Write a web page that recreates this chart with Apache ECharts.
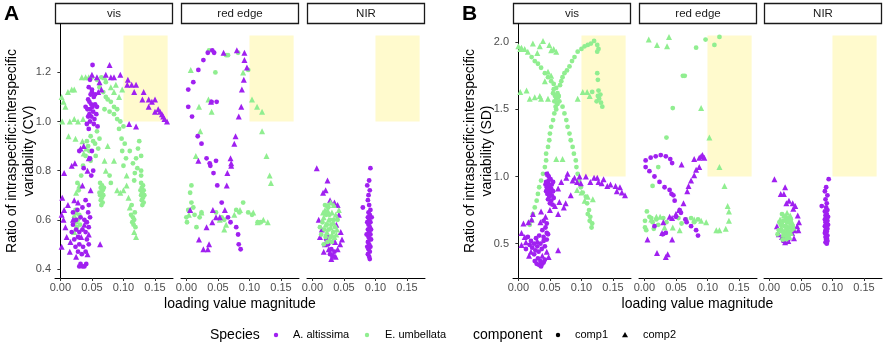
<!DOCTYPE html>
<html>
<head>
<meta charset="utf-8">
<script src="https://cdn.jsdelivr.net/npm/echarts@6/dist/echarts.min.js"></script>
<style>
  html, body { margin: 0; padding: 0; background: #fff; }
  #chart { width: 886px; height: 346px; }
</style>
</head>
<body>
<div id="chart"></div>
<script>
// facets and ticks
var facets = ['vis', 'red edge', 'NIR'];
var xTicks = [0, 0.05, 0.10, 0.15];
var xTickLabels = ['0.00', '0.05', '0.10', '0.15'];
var yTicksA = [0.4, 0.6, 0.8, 1.0, 1.2];
var yTickLabelsA = ['0.4', '0.6', '0.8', '1.0', '1.2'];
var yTicksB = [0.5, 1.0, 1.5, 2.0];
var yTickLabelsB = ['0.5', '1.0', '1.5', '2.0'];
// highlighted region [x0, x1, y0, y1]
var rectA = [0.10, 0.17, 1.0, 1.35];
var rectB = [0.10, 0.17, 1.0, 2.05];

// ---- A: CV ----  aa = A. altissima, eu = E. umbellata, 1/2 = comp1/comp2
var A_vis_aa1 = [[0.051,1.23],[0.047,1.17],[0.045,1.14],[0.050,1.12],[0.053,1.10],[0.046,1.08],[0.049,1.07],[0.055,1.07],[0.047,1.05],[0.043,1.05],[0.052,1.04],[0.057,1.03],[0.049,1.02],[0.044,1.02],[0.054,1.01],[0.047,1.00],[0.042,0.99],[0.059,0.98],[0.050,1.13],[0.055,1.11],[0.048,1.11],[0.044,1.09],[0.058,1.06],[0.051,1.06],[0.046,1.03],[0.053,0.99],[0.045,0.97],[0.040,1.06],
  [0.050,0.88],[0.047,0.85],[0.052,0.80],[0.049,0.78],[0.030,0.88],[0.037,0.81],
  [0.020,0.58],[0.025,0.56],[0.030,0.55],[0.028,0.53],[0.035,0.56],[0.040,0.55],[0.045,0.57],[0.042,0.59],[0.038,0.60],[0.032,0.61],[0.025,0.60],[0.018,0.55],[0.022,0.52],[0.030,0.50],[0.036,0.49],[0.042,0.52],[0.045,0.50],[0.040,0.47],[0.034,0.46],[0.028,0.47],[0.024,0.49],[0.032,0.42],[0.035,0.41],[0.038,0.41],[0.030,0.41],[0.041,0.42],[0.044,0.63],[0.047,0.61],[0.045,0.66],[0.040,0.68],[0.035,0.65],[0.027,0.64],[0.020,0.63]];
var A_vis_aa2 = [[0.078,1.23],[0.050,1.19],[0.072,1.19],[0.080,1.18],[0.085,1.18],[0.095,1.19],[0.107,1.17],[0.106,1.15],[0.113,1.15],[0.120,1.15],[0.117,1.12],[0.132,1.12],[0.130,1.09],[0.140,1.09],[0.145,1.08],[0.150,1.09],[0.140,1.06],[0.155,1.05],[0.150,1.04],[0.158,1.04],[0.161,1.03],[0.163,1.02],[0.165,1.01],[0.169,1.00],[0.109,0.99],[0.120,0.98],[0.062,1.16],[0.058,1.18],[0.065,1.13],[0.060,1.12],
  [0.006,0.79],[0.018,0.82],[0.023,0.83],[0.032,0.89],[0.037,0.90],[0.045,0.85],[0.043,0.80],[0.048,0.72],
  [0.003,0.69],[0.002,0.62],[0.005,0.60],[0.008,0.57],[0.010,0.53],[0.002,0.49],[0.016,0.51],[0.012,0.66],[0.028,0.67],[0.035,0.74],[0.022,0.68],[0.063,0.50],[0.045,0.54],[0.038,0.58],[0.015,0.47],[0.025,0.45],[0.043,0.46],[0.033,0.53],[0.020,0.60],[0.006,0.64]];
var A_vis_eu1 = [[0.063,0.75],[0.066,0.74],[0.064,0.73],[0.067,0.72],[0.065,0.71],[0.063,0.70],[0.068,0.70],[0.066,0.69],[0.064,0.68],[0.067,0.67],[0.065,0.66],[0.069,0.73],[0.062,0.71],
  [0.128,0.75],[0.131,0.74],[0.129,0.73],[0.132,0.72],[0.130,0.71],[0.128,0.70],[0.131,0.69],[0.129,0.68],[0.132,0.67],[0.130,0.66],[0.127,0.72],[0.133,0.70],
  [0.112,0.62],[0.115,0.61],[0.117,0.60],[0.114,0.59],[0.116,0.58],[0.119,0.57],[0.118,0.63],[0.113,0.66],
  [0.022,0.61],[0.025,0.59],[0.028,0.60],[0.030,0.62],[0.026,0.57],[0.031,0.58],[0.024,0.64],[0.029,0.72],[0.027,0.75],[0.033,0.78],[0.036,0.82],
  [0.042,0.92],[0.044,0.90],[0.046,0.88],[0.040,0.86],[0.048,0.84],[0.052,0.92],[0.055,0.91],[0.048,0.94],[0.058,0.96],[0.062,0.93],[0.060,0.89],[0.056,0.86],
  [0.050,1.18],[0.058,1.17],[0.065,1.18],[0.072,1.16],[0.062,1.14],[0.068,1.12],[0.072,1.10],[0.075,1.09],[0.080,1.08],[0.085,1.06],[0.090,1.05],[0.085,1.03],[0.078,1.04],[0.070,1.05],[0.090,1.01],[0.095,1.00],[0.093,0.97],[0.100,0.98],[0.097,0.93],[0.102,0.91],[0.098,0.88],[0.104,0.85],[0.100,0.82],[0.110,0.88],[0.115,0.83],[0.118,0.79],[0.122,0.81],[0.120,0.85],[0.125,0.92],[0.123,0.89],[0.128,0.86],[0.128,0.80],[0.128,0.78],[0.117,0.76],[0.078,0.78],[0.080,0.75]];
var A_vis_eu2 = [[0.002,1.10],[0.005,1.08],[0.008,1.06],[0.012,1.12],[0.018,1.13],[0.022,1.13],[0.034,1.18],[0.040,1.18],[0.045,1.18],[0.003,1.00],[0.015,1.00],[0.022,1.01],[0.028,1.00],[0.036,1.01],[0.013,0.94],[0.024,0.93],[0.035,0.92],[0.041,0.89],[0.037,0.87],[0.025,0.71],[0.030,0.74],
  [0.070,1.18],[0.080,1.14],[0.085,1.12],[0.088,1.15],[0.093,1.10],[0.098,1.13],
  [0.090,0.72],[0.100,0.72],[0.095,0.71],[0.105,0.74],[0.108,0.69],[0.110,0.65],[0.117,0.55],[0.120,0.53],[0.072,0.80],[0.070,0.84],[0.085,0.84],[0.075,0.90],[0.105,0.78],[0.022,0.61],[0.026,0.63],[0.022,0.55]];

var A_red_aa1 = [[0.034,1.28],[0.041,1.29],[0.044,1.28],[0.027,1.25],[0.019,1.21],[0.011,1.16],[0.003,1.13],[0.003,1.06],[0.009,1.02],[0.040,1.08],[0.048,1.08],[0.018,0.94],[0.024,0.91],[0.032,0.85],[0.037,0.83],[0.047,0.84],[0.038,0.82],[0.043,0.79],[0.049,0.74],[0.056,0.67],[0.066,0.61],[0.070,0.59],[0.079,0.57],[0.082,0.54],[0.083,0.50],[0.086,0.48]];
var A_red_aa2 = [[0.059,1.28],[0.080,1.29],[0.092,1.28],[0.092,1.25],[0.096,1.22],[0.091,1.17],[0.088,1.13],[0.087,1.06],[0.083,1.02],[0.078,0.94],[0.076,0.91],[0.070,0.85],[0.071,0.83],[0.019,0.84],[0.039,1.08],[0.071,0.82],[0.065,0.79],[0.064,0.74],[0.006,0.64],[0.047,0.61],[0.053,0.61],[0.061,0.64],[0.041,0.59],[0.032,0.57],[0.020,0.52],[0.027,0.48],[0.034,0.48],[0.036,0.50],[0.042,0.64]];
var A_red_eu1 = [[0.036,1.29],[0.063,1.27],[0.066,1.27],[0.046,1.20],[0.098,1.21],[0.082,1.28],[0.008,0.74],[0.006,0.71],[0.008,0.67],[0.011,0.65],[0.003,0.64],[0.000,0.61],[0.001,0.59],[0.016,0.57],[0.021,0.61],[0.024,0.63],[0.047,0.63],[0.056,0.61],[0.079,0.64],[0.084,0.63],[0.090,0.67],[0.098,0.63],[0.104,0.62],[0.113,0.59],[0.118,0.59],[0.013,0.62],[0.060,0.60]];
var A_red_eu2 = [[0.007,1.21],[0.090,1.20],[0.035,1.09],[0.020,1.06],[0.040,1.04],[0.104,1.09],[0.112,1.06],[0.120,1.04],[0.120,0.96],[0.022,0.96],[0.015,0.86],[0.127,0.86],[0.134,0.75],[0.132,0.78],[0.006,0.64],[0.024,0.63],[0.063,0.58],[0.076,0.62],[0.085,0.64],[0.106,0.63],[0.113,0.59],[0.122,0.60],[0.129,0.59],[0.053,0.60],[0.060,0.56],[0.004,0.62]];

var A_nir_aa1 = [[0.092,0.81],[0.090,0.76],[0.087,0.74],[0.091,0.72],[0.089,0.70],[0.088,0.68],[0.080,0.65],[0.090,0.66],[0.092,0.64],[0.089,0.63],[0.091,0.62],[0.088,0.61],[0.090,0.60],[0.092,0.59],[0.089,0.58],[0.091,0.57],[0.088,0.56],[0.090,0.55],[0.092,0.54],[0.089,0.53],[0.091,0.52],[0.088,0.51],[0.090,0.50],[0.092,0.49],[0.089,0.48],[0.091,0.47],[0.088,0.46],[0.090,0.45],[0.091,0.44],[0.093,0.56],[0.087,0.59],[0.093,0.52],[0.087,0.49],[0.094,0.61],[0.086,0.54],
  [0.025,0.50],[0.030,0.48],[0.028,0.46],[0.035,0.47],[0.032,0.45],[0.022,0.52]];
var A_nir_aa2 = [[0.007,0.81],[0.024,0.76],[0.017,0.71],[0.021,0.72],[0.028,0.68],[0.035,0.67],[0.040,0.66],[0.042,0.62],[0.010,0.60],[0.015,0.56],[0.012,0.53],[0.045,0.55],[0.047,0.52],[0.044,0.50],[0.020,0.50],[0.026,0.48],[0.033,0.46],[0.030,0.44],[0.037,0.45],[0.040,0.48],[0.018,0.47],[0.036,0.51],[0.024,0.54],[0.038,0.58]];
var A_nir_eu1 = [[0.020,0.66],[0.025,0.65],[0.022,0.62],[0.028,0.60],[0.016,0.59],[0.030,0.58],[0.019,0.56],[0.026,0.56],[0.033,0.55],[0.014,0.54],[0.021,0.53],[0.029,0.53],[0.024,0.51],[0.031,0.51],[0.018,0.50],[0.027,0.62],[0.034,0.60],[0.023,0.58],[0.012,0.57],[0.036,0.57],[0.040,0.60]];
var A_nir_eu2 = [[0.029,0.67],[0.034,0.66],[0.024,0.64],[0.031,0.63],[0.037,0.62],[0.018,0.61],[0.026,0.60],[0.033,0.59],[0.021,0.58],[0.029,0.57],[0.039,0.56],[0.023,0.55],[0.031,0.54],[0.027,0.52],[0.035,0.53],[0.042,0.64],[0.020,0.64],[0.017,0.63],[0.038,0.54],[0.025,0.66]];

// ---- B: SD ----
var B_vis_aa1 = [[0.045,1.02],[0.048,1.00],[0.051,0.98],[0.044,0.96],[0.047,0.95],[0.053,0.94],[0.049,0.93],[0.045,0.92],[0.052,0.91],[0.048,0.90],[0.044,0.89],[0.055,0.89],[0.050,0.88],[0.046,0.87],[0.053,0.86],[0.049,0.85],[0.056,0.84],[0.047,0.83],[0.052,0.82],[0.050,0.80],[0.054,0.79],[0.048,0.97],[0.055,0.96],[0.043,0.94],
  [0.040,0.67],[0.045,0.65],[0.043,0.62],[0.038,0.60],[0.045,0.58],
  [0.015,0.55],[0.020,0.52],[0.025,0.50],[0.030,0.48],[0.035,0.50],[0.040,0.52],[0.028,0.54],[0.033,0.56],[0.022,0.47],[0.027,0.45],[0.032,0.44],[0.037,0.46],[0.042,0.48],[0.018,0.49],[0.045,0.53],[0.012,0.46],[0.025,0.42],[0.031,0.39],[0.035,0.37],[0.038,0.35],[0.033,0.34],[0.029,0.35],[0.036,0.33],[0.040,0.36],[0.042,0.38],[0.026,0.37],[0.040,0.55],[0.047,0.57]];
var B_vis_aa2 = [[0.047,1.02],[0.078,1.02],[0.076,0.99],[0.089,0.99],[0.097,1.00],[0.107,1.00],[0.120,0.99],[0.125,0.99],[0.135,0.98],[0.141,0.93],[0.146,0.94],[0.154,0.93],[0.161,0.92],[0.156,0.89],[0.164,0.88],[0.169,0.86],[0.132,0.95],[0.127,0.96],[0.114,0.96],[0.099,0.95],[0.093,0.96],[0.086,0.97],[0.068,0.96],[0.063,0.91],[0.083,0.86],[0.065,0.81],[0.075,0.80],[0.072,0.77],[0.063,0.72],[0.036,0.74],[0.023,0.72],[0.021,0.68],[0.016,0.66],[0.008,0.65],[0.005,0.58],[0.063,0.45],[0.058,0.78],[0.012,0.51],[0.005,0.49],[0.020,0.44],[0.045,0.44],[0.048,0.40],[0.017,0.41],[0.030,0.52],[0.038,0.41],[0.010,0.55],[0.043,0.70],[0.035,0.66],[0.050,0.75]];
var B_vis_eu1 = [[0.021,1.89],[0.026,1.86],[0.031,1.84],[0.036,1.81],[0.042,1.77],[0.047,1.74],[0.052,1.71],[0.056,1.69],[0.060,1.66],[0.062,1.62],[0.063,1.59],[0.065,1.56],[0.062,1.54],
  [0.120,2.01],[0.115,1.99],[0.110,1.98],[0.105,1.97],[0.100,1.95],[0.094,1.93],[0.089,1.89],[0.085,1.86],[0.081,1.82],[0.077,1.79],[0.073,1.77],[0.070,1.74],[0.068,1.71],[0.066,1.68],[0.125,1.98],[0.127,1.95],[0.125,1.93],
  [0.125,1.77],[0.126,1.72],[0.127,1.64],[0.130,1.61],[0.128,1.58],[0.131,1.55],[0.133,1.52],[0.126,1.60],[0.117,1.63],[0.124,1.56],
  [0.055,1.62],[0.058,1.60],[0.060,1.58],[0.057,1.56],[0.061,1.55],[0.064,1.60],[0.059,1.52],[0.056,1.65],
  [0.060,1.50],[0.057,1.47],[0.055,1.42],[0.052,1.37],[0.050,1.32],[0.049,1.27],[0.047,1.22],[0.044,1.17],[0.044,1.12],[0.042,1.07],[0.039,1.02],[0.036,0.97],[0.033,0.92],[0.031,0.87],[0.029,0.82],[0.026,0.77],[0.023,0.72],[0.021,0.67],[0.018,0.64],
  [0.070,1.52],[0.073,1.47],[0.076,1.42],[0.078,1.37],[0.081,1.32],[0.083,1.27],[0.086,1.22],[0.088,1.17],[0.091,1.12],[0.092,1.07],[0.094,1.02],[0.096,0.97],[0.099,0.92],[0.102,0.88],[0.107,0.85],[0.109,0.80],[0.112,0.75],[0.114,0.70],[0.117,0.65],[0.113,0.67],[0.110,0.72],[0.116,0.62]];
var B_vis_eu2 = [[0.000,1.97],[0.005,1.96],[0.010,1.95],[0.003,1.95],[0.023,1.99],[0.039,2.01],[0.034,1.97],[0.049,1.98],[0.052,1.94],[0.056,1.95],[0.060,1.93],[0.015,1.93],[0.030,1.92],
  [0.003,1.63],[0.013,1.64],[0.018,1.58],[0.026,1.59],[0.034,1.60],[0.036,1.58],[0.047,1.58],[0.042,1.71],[0.047,1.78],[0.052,1.75],
  [0.102,1.63],[0.109,1.63],[0.094,1.58],[0.113,1.60],
  [0.060,1.13],[0.070,1.13],[0.093,0.90],[0.100,0.88],[0.110,0.85],[0.118,0.83],[0.105,0.82]];

var B_red_aa1 = [[0.002,1.12],[0.010,1.14],[0.018,1.15],[0.026,1.16],[0.034,1.15],[0.041,1.13],[0.044,1.10],[0.002,1.07],[0.008,1.04],[0.016,1.00],[0.024,0.96],[0.032,0.92],[0.040,0.90],[0.043,0.87],[0.046,0.86],[0.048,0.82],[0.056,0.75],[0.058,0.73],[0.065,0.68],[0.067,0.66],[0.074,0.63],[0.082,0.60],[0.085,0.56],[0.029,0.57],[0.034,0.58],[0.016,0.63],[0.050,0.70]];
var B_red_aa2 = [[0.059,1.09],[0.079,1.13],[0.087,1.14],[0.090,1.15],[0.092,1.16],[0.095,1.14],[0.087,1.07],[0.082,1.05],[0.079,1.01],[0.074,0.97],[0.070,0.93],[0.068,0.89],[0.055,0.75],[0.050,0.72],[0.044,0.69],[0.040,0.70],[0.030,0.66],[0.028,0.58],[0.005,0.53],[0.044,0.53],[0.020,0.43],[0.034,0.40],[0.037,0.42],[0.062,0.80]];
var B_red_eu1 = [[0.097,2.02],[0.119,2.04],[0.111,1.98],[0.082,1.96],[0.061,1.75],[0.064,1.75],[0.045,1.51],[0.035,1.29],[0.022,1.07],[0.013,0.93],[0.004,0.74],[0.001,0.67],[0.001,0.62],[0.003,0.60],[0.011,0.69],[0.013,0.66],[0.019,0.68],[0.022,0.64],[0.008,0.70],[0.015,0.61],[0.030,0.69],[0.035,0.66],[0.054,0.69],[0.059,0.65],[0.066,0.68],[0.074,0.69],[0.079,0.66],[0.085,0.68]];
var B_red_eu2 = [[0.007,2.02],[0.039,2.04],[0.020,1.98],[0.036,1.97],[0.090,1.51],[0.103,1.29],[0.119,1.07],[0.127,0.93],[0.132,0.78],[0.134,0.74],[0.134,0.67],[0.129,0.61],[0.119,0.60],[0.114,0.60],[0.098,0.66],[0.090,0.67],[0.079,0.68],[0.056,0.60],[0.045,0.62],[0.032,0.62],[0.019,0.70],[0.011,0.68],[0.025,0.70]];

var B_nir_aa1 = [[0.094,0.98],[0.090,0.92],[0.088,0.89],[0.092,0.86],[0.089,0.83],[0.091,0.80],[0.083,0.78],[0.090,0.77],[0.092,0.75],[0.088,0.74],[0.091,0.72],[0.089,0.71],[0.093,0.70],[0.090,0.69],[0.088,0.68],[0.092,0.67],[0.089,0.66],[0.091,0.65],[0.093,0.64],[0.088,0.63],[0.090,0.62],[0.092,0.61],[0.089,0.60],[0.091,0.59],[0.088,0.58],[0.090,0.57],[0.092,0.56],[0.089,0.55],[0.091,0.54],[0.090,0.53],[0.092,0.52],[0.089,0.51],[0.091,0.50],
  [0.026,0.55],[0.030,0.53],[0.022,0.52]];
var B_nir_aa2 = [[0.008,0.98],[0.025,0.92],[0.018,0.87],[0.023,0.87],[0.031,0.82],[0.037,0.80],[0.041,0.78],[0.038,0.76],[0.027,0.80],[0.045,0.71],[0.047,0.66],[0.044,0.63],[0.040,0.60],[0.036,0.58],[0.046,0.60],[0.020,0.55],[0.015,0.57],[0.030,0.52],[0.025,0.51],[0.039,0.54],[0.012,0.63]];
var B_nir_eu1 = [[0.020,0.72],[0.025,0.70],[0.030,0.69],[0.022,0.67],[0.028,0.66],[0.033,0.65],[0.018,0.64],[0.024,0.63],[0.031,0.62],[0.027,0.61],[0.035,0.60],[0.020,0.59],[0.026,0.58],[0.032,0.57],[0.023,0.56],[0.029,0.55],[0.015,0.60],[0.037,0.63],[0.013,0.57],[0.021,0.53],[0.034,0.68],[0.016,0.66]];
var B_nir_eu2 = [[0.028,0.73],[0.023,0.71],[0.033,0.71],[0.026,0.68],[0.031,0.67],[0.021,0.65],[0.036,0.66],[0.027,0.64],[0.030,0.60],[0.024,0.59],[0.034,0.58],[0.019,0.62],[0.028,0.57],[0.038,0.62],[0.022,0.57],[0.026,0.54],[0.017,0.68],[0.032,0.55]];

var PURPLE = '#A020F0', GREEN = '#90EE90', BAND = '#FFFACD';
var FONT = '"Liberation Sans", Arial, sans-serif';

var panels = [
  { lefts: [55, 181, 307], yMin: 0.363, yMax: 1.397, yTicks: yTicksA, yLabels: yTickLabelsA, rect: rectA,
    data: [[A_vis_aa1, A_vis_aa2, A_vis_eu1, A_vis_eu2], [A_red_aa1, A_red_aa2, A_red_eu1, A_red_eu2], [A_nir_aa1, A_nir_aa2, A_nir_eu1, A_nir_eu2]] },
  { lefts: [513, 639, 764], yMin: 0.244, yMax: 2.136, yTicks: yTicksB, yLabels: yTickLabelsB, rect: rectB,
    data: [[B_vis_aa1, B_vis_aa2, B_vis_eu1, B_vis_eu2], [B_red_aa1, B_red_aa2, B_red_eu1, B_red_eu2], [B_nir_aa1, B_nir_aa2, B_nir_eu1, B_nir_eu2]] }
];
var W = 118, TOP = 24, H = 254;

function labelOf(ticks, labels) {
  return function (v) {
    for (var i = 0; i < ticks.length; i++) if (Math.abs(ticks[i] - v) < 1e-6) return labels[i];
    return '';
  };
}

var grids = [], xAxes = [], yAxes = [], series = [], graphics = [];
panels.forEach(function (p, pi) {
  p.lefts.forEach(function (left, fi) {
    var gi = grids.length;
    grids.push({ left: left, top: TOP, width: W, height: H });
    xAxes.push({
      type: 'value', gridIndex: gi, min: -0.0085, max: 0.1785,
      axisLine: { show: true, onZero: false, lineStyle: { color: '#000', width: 1 } },
      axisTick: { show: true, length: 3, lineStyle: { color: '#333' }, customValues: xTicks },
      axisLabel: { color: '#4D4D4D', fontSize: 11, fontFamily: FONT, margin: 4, customValues: xTicks, formatter: labelOf(xTicks, xTickLabels) },
      splitLine: { show: false }
    });
    var first = fi === 0;
    yAxes.push({
      type: 'value', gridIndex: gi, min: p.yMin, max: p.yMax,
      axisLine: { show: first, lineStyle: { color: '#000', width: 1 } },
      axisTick: { show: first, length: 3, lineStyle: { color: '#333' }, customValues: p.yTicks },
      axisLabel: { show: first, color: '#4D4D4D', fontSize: 11, fontFamily: FONT, margin: 4, customValues: p.yTicks, formatter: labelOf(p.yTicks, p.yLabels) },
      splitLine: { show: false }
    });
    // yellow band
    series.push({
      type: 'scatter', xAxisIndex: gi, yAxisIndex: gi, data: [], z: 1, silent: true,
      markArea: { silent: true, itemStyle: { color: BAND }, data: [[{ xAxis: p.rect[0], yAxis: p.rect[2] }, { xAxis: p.rect[1], yAxis: p.rect[3] }]] }
    });
    var d = p.data[fi];
    var layers = [
      { arr: d[2], color: GREEN, symbol: 'circle', size: 4.8 },
      { arr: d[3], color: GREEN, symbol: 'triangle', size: 6 },
      { arr: d[0], color: PURPLE, symbol: 'circle', size: 4.8 },
      { arr: d[1], color: PURPLE, symbol: 'triangle', size: 6 }
    ];
    if (fi === 2) layers = [layers[2], layers[3], layers[0], layers[1]];
    layers.forEach(function (l, li) {
      series.push({
        type: 'scatter', xAxisIndex: gi, yAxisIndex: gi, data: l.arr, z: 2 + li,
        symbol: l.symbol, symbolSize: l.size, itemStyle: { color: l.color, opacity: 1 }, silent: true
      });
    });
    // facet strip
    graphics.push({ type: 'rect', shape: { x: left + 0.5, y: 3.5, width: W - 1, height: 20 }, style: { fill: '#fff', stroke: '#1a1a1a', lineWidth: 1.3 } });
    graphics.push({ type: 'text', x: left + W / 2, y: 13.5, style: { text: facets[fi], fill: '#1a1a1a', font: '11.5px ' + FONT, textAlign: 'center', textVerticalAlign: 'middle' } });
  });
  // panel label, axis titles
  var x0 = p.lefts[0];
  var yt = pi === 0 ? 'variability (CV)' : 'variability (SD)';
  graphics.push({ type: 'text', x: x0 - 51, y: 14, style: { text: pi === 0 ? 'A' : 'B', fill: '#000', font: 'bold 21px ' + FONT, textAlign: 'left', textVerticalAlign: 'middle' } });
  graphics.push({ type: 'text', x: x0 - 43, y: TOP + H / 2, rotation: Math.PI / 2, style: { text: 'Ratio of intraspecific:interspecific', fill: '#000', font: '14px ' + FONT, textAlign: 'center', textVerticalAlign: 'middle' } });
  graphics.push({ type: 'text', x: x0 - 26, y: TOP + H / 2, rotation: Math.PI / 2, style: { text: yt, fill: '#000', font: '14px ' + FONT, textAlign: 'center', textVerticalAlign: 'middle' } });
  var xc = (p.lefts[0] + p.lefts[2] + W) / 2;
  graphics.push({ type: 'text', x: xc, y: 304, style: { text: 'loading value magnitude', fill: '#000', font: '14px ' + FONT, textAlign: 'center', textVerticalAlign: 'middle' } });
});

// legend
var LY = 335;
function legText(x, t, size) {
  graphics.push({ type: 'text', x: x, y: LY, style: { text: t, fill: '#000', font: size + 'px ' + FONT, textAlign: 'left', textVerticalAlign: 'middle' } });
}
legText(210, 'Species', 14);
graphics.push({ type: 'circle', shape: { cx: 276, cy: LY, r: 2.2 }, style: { fill: PURPLE } });
legText(293, 'A. altissima', 11);
graphics.push({ type: 'circle', shape: { cx: 367, cy: LY, r: 2.2 }, style: { fill: GREEN } });
legText(385, 'E. umbellata', 11);
legText(473, 'component', 14);
graphics.push({ type: 'circle', shape: { cx: 558, cy: LY, r: 2.2 }, style: { fill: '#000' } });
legText(575, 'comp1', 11);
graphics.push({ type: 'polygon', shape: { points: [[625, LY - 3], [628, LY + 2.2], [622, LY + 2.2]] }, style: { fill: '#000' } });
legText(643, 'comp2', 11);

var chart = echarts.init(document.getElementById('chart'));
chart.setOption({
  animation: false,
  backgroundColor: '#fff',
  grid: grids,
  xAxis: xAxes,
  yAxis: yAxes,
  series: series,
  graphic: { elements: graphics }
});
</script>
</body>
</html>
